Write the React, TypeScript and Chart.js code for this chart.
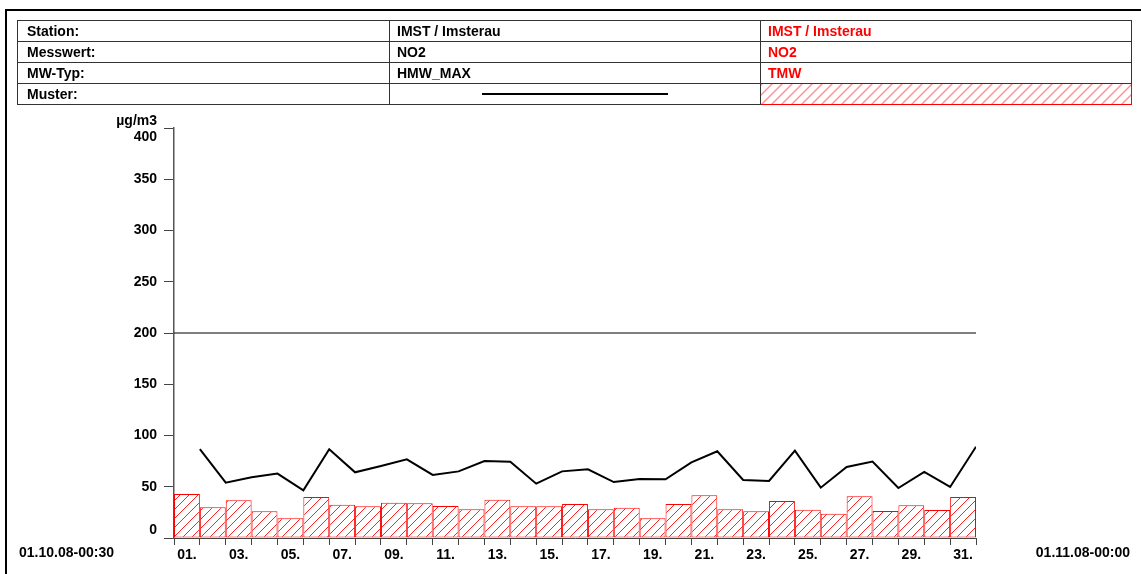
import React, { useEffect, useRef } from "react";
import { Chart, registerables } from "chart.js";

Chart.register(...registerables);

// ---- data ----
const days = [
  "01.", "02.", "03.", "04.", "05.", "06.", "07.", "08.", "09.", "10.",
  "11.", "12.", "13.", "14.", "15.", "16.", "17.", "18.", "19.", "20.",
  "21.", "22.", "23.", "24.", "25.", "26.", "27.", "28.", "29.", "30.", "31.",
];
// TMW (daily mean), bars
const tmw = [
  43, 30, 36.8, 26, 19.2, 40, 32.5, 30.9, 34.5, 33.8,
  31.2, 28, 37.4, 30.9, 30.9, 33.2, 28, 29.6, 19.2, 33.2,
  41.6, 28, 26, 36.1, 27.6, 23.7, 40.7, 26.3, 31.9, 27.3, 40,
];
// HMW_MAX (max half-hour mean), line at end of each day
const hmwMax = [
  86.8, 54, 59.2, 62.8, 46.5, 86.5, 64.1, 70.2, 76.7, 61.5,
  65, 75.1, 74.5, 53, 65, 67, 54.6, 57.6, 57.3, 73.8,
  84.6, 56.6, 55.6, 85.2, 49.1, 69.3, 74.5, 48.8, 64.4, 49.8, 89.1,
];
const limitValue = 200;
const yTicks = [0, 50, 100, 150, 200, 250, 300, 350, 400];
const yUnit = "µg/m3";
const startLabel = "01.10.08-00:30";
const endLabel = "01.11.08-00:00";

const tableRows = [
  ["Station:", "IMST / Imsterau", "IMST / Imsterau"],
  ["Messwert:", "NO2", "NO2"],
  ["MW-Typ:", "HMW_MAX", "TMW"],
];

const FONT = "'Liberation Sans', Arial, Helvetica, sans-serif";
const FS = 14;

function makeTile(s: number): HTMLCanvasElement {
  const c = document.createElement("canvas");
  c.width = s;
  c.height = s;
  const g = c.getContext("2d");
  if (!g) return c;
  g.fillStyle = "#ffffff";
  g.fillRect(0, 0, s, s);
  g.strokeStyle = "#ff2020";
  g.lineWidth = 1;
  g.beginPath();
  g.moveTo(-1, s + 1);
  g.lineTo(s + 1, -1);
  g.moveTo(-1, 1);
  g.lineTo(1, -1);
  g.moveTo(s - 1, s + 1);
  g.lineTo(s + 1, s - 1);
  g.stroke();
  return c;
}

export default function App() {
  const ref = useRef<HTMLCanvasElement | null>(null);
  const tileUrl = typeof document !== "undefined" ? makeTile(10).toDataURL() : "";

  useEffect(() => {
    const canvas = ref.current;
    if (!canvas) return;
    const g = canvas.getContext("2d");
    const pattern = (g && g.createPattern(makeTile(9), "repeat")) || "#fff";

    const xTicks: { value: number }[] = [];
    for (let i = 0; i <= days.length; i++) xTicks.push({ value: i });
    for (let i = 0; i < days.length; i++) xTicks.push({ value: i + 0.5 });
    xTicks.sort((a, b) => a.value - b.value);

    const textPlugin = {
      id: "extraText",
      afterDraw(chart: any) {
        const ctx = chart.ctx;
        const y = chart.scales.y;
        ctx.save();
        ctx.fillStyle = "#000";
        ctx.font = `bold ${FS}px ${FONT}`;
        ctx.textAlign = "right";
        ctx.textBaseline = "alphabetic";
        ctx.fillText(yUnit, 157, 125);
        ctx.textBaseline = "middle";
        // first / last y labels drawn inward of their ticks
        const yMax = yTicks[yTicks.length - 1];
        const yMin = yTicks[0];
        ctx.fillText(String(yMax), 157, y.getPixelForValue(yMax) + 9);
        ctx.fillText(String(yMin), 157, y.getPixelForValue(yMin) - 8);
        ctx.textAlign = "left";
        ctx.fillText(startLabel, 19, 553);
        ctx.textAlign = "right";
        ctx.fillText(endLabel, 1130, 553);
        ctx.restore();
      },
    };

    const chart = new Chart(canvas, {
      type: "bar",
      data: {
        datasets: [
          {
            type: "line",
            label: "HMW_MAX",
            data: hmwMax.map((v, i) => ({ x: i + 1, y: v })),
            borderColor: "#000",
            borderWidth: 2,
            pointRadius: 0,
            tension: 0,
            order: 0,
          } as any,
          {
            type: "line",
            label: "limit",
            data: [
              { x: 0, y: limitValue },
              { x: days.length, y: limitValue },
            ],
            borderColor: "#000",
            borderWidth: 1.2,
            pointRadius: 0,
            order: 1,
          } as any,
          {
            type: "bar",
            label: "TMW",
            data: tmw.map((v, i) => ({ x: i + 0.5, y: v })),
            backgroundColor: pattern as any,
            borderColor: "#ff0000",
            borderWidth: 1,
            borderSkipped: false,
            // ticks sit every half day, so a full-day bar spans two tick gaps
            barPercentage: 2,
            categoryPercentage: 1,
            order: 2,
          } as any,
        ],
      },
      options: {
        animation: false,
        responsive: false,
        devicePixelRatio: 1,
        layout: { padding: { left: 0, top: 128, right: 165, bottom: 0 } },
        plugins: { legend: { display: false }, tooltip: { enabled: false } },
        scales: {
          x: {
            type: "linear",
            offset: false,
            min: 0,
            max: days.length,
            afterFit: (s: any) => {
              s.height = 36;
            },
            afterBuildTicks: (s: any) => {
              s.ticks = xTicks.map((t) => ({ value: t.value }));
            },
            ticks: {
              autoSkip: false,
              maxRotation: 0,
              padding: 2,
              color: "#000",
              font: { family: FONT, size: FS, weight: "bold" },
              callback: (v: any) => {
                const d = Number(v) - 0.5;
                if (Number.isInteger(d) && d % 2 === 0) return days[d];
                return "";
              },
            },
            grid: {
              offset: false,
              drawOnChartArea: false,
              drawTicks: true,
              tickLength: 7,
              color: (c: any) =>
                c.tick && Number.isInteger(c.tick.value) ? "#444" : "rgba(0,0,0,0)",
            },
            border: { color: "#444", width: 1 },
          },
          y: {
            min: 0,
            max: 400,
            afterFit: (s: any) => {
              s.width = 174;
            },
            afterBuildTicks: (s: any) => {
              s.ticks = yTicks.map((v) => ({ value: v }));
            },
            ticks: {
              padding: 7,
              color: "#000",
              font: { family: FONT, size: FS, weight: "bold" },
              callback: (v: any) =>
                v === yTicks[0] || v === yTicks[yTicks.length - 1] ? "" : String(v),
            },
            grid: {
              drawOnChartArea: false,
              drawTicks: true,
              tickLength: 10,
              color: "#444",
            },
            border: { color: "#555", width: 1.5 },
          },
        },
      } as any,
      plugins: [textPlugin],
    });
    return () => chart.destroy();
  }, []);

  const cellBase: React.CSSProperties = {
    border: "1px solid #333",
    height: 20,
    padding: 0,
    paddingLeft: 7,
    fontFamily: FONT,
    fontWeight: "bold",
    fontSize: FS,
    lineHeight: "20px",
    whiteSpace: "nowrap",
    overflow: "hidden",
  };

  return (
    <div style={{ position: "absolute", left: 0, top: 0, width: 1141, height: 574, background: "#fff", overflow: "hidden" }}>
      <div
        style={{
          position: "absolute",
          left: 5,
          top: 9,
          width: 1141,
          height: 600,
          borderLeft: "2px solid #000",
          borderTop: "2px solid #000",
        }}
      />
      <canvas ref={ref} width={1141} height={574} style={{ position: "absolute", left: 0, top: 0 }} />
      <table
        style={{
          position: "absolute",
          left: 17,
          top: 20,
          width: 1114,
          borderCollapse: "collapse",
          tableLayout: "fixed",
        }}
      >
        <colgroup>
          <col style={{ width: 372 }} />
          <col style={{ width: 371 }} />
          <col style={{ width: 371 }} />
        </colgroup>
        <tbody>
          {tableRows.map((r, i) => (
            <tr key={i}>
              <td style={{ ...cellBase, paddingLeft: 9 }}>{r[0]}</td>
              <td style={cellBase}>{r[1]}</td>
              <td style={{ ...cellBase, color: "#ff0000" }}>{r[2]}</td>
            </tr>
          ))}
          <tr>
            <td style={{ ...cellBase, paddingLeft: 9 }}>Muster:</td>
            <td style={{ ...cellBase, paddingLeft: 0 }}>
              <div style={{ width: 186, height: 2, background: "#000", margin: "0 auto" }} />
            </td>
            <td
              style={{
                ...cellBase,
                border: "1px solid #ff0000",
                backgroundImage: `url(${tileUrl})`,
                backgroundRepeat: "repeat",
              }}
            />
          </tr>
        </tbody>
      </table>
    </div>
  );
}
